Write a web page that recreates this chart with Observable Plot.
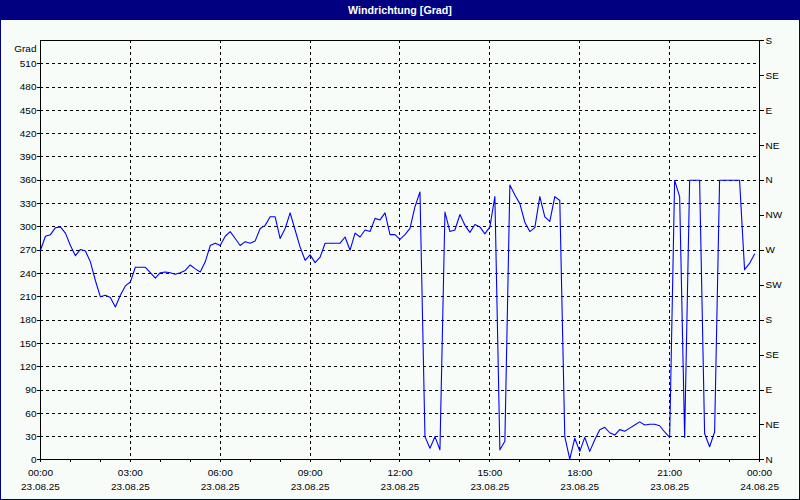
<!DOCTYPE html>
<html><head><meta charset="utf-8">
<script src="https://cdn.jsdelivr.net/npm/d3@7"></script>
<script src="https://cdn.jsdelivr.net/npm/@observablehq/plot@0.6"></script>
<style>
html,body{margin:0;padding:0;background:#f8fcf8;}
#frame{position:relative;width:800px;height:500px;box-sizing:border-box;border:1px solid #000080;background:#f8fcf8;font-family:"Liberation Sans",Arial,sans-serif;overflow:hidden}
#title{position:absolute;left:0;top:0;width:100%;height:19px;background:#000080;color:#fff;font-weight:bold;font-size:10.7px;line-height:19px;text-align:center}
#chart{position:absolute;left:-1px;top:19px;}
</style></head><body>
<div id="frame"><div id="title">Windrichtung [Grad]</div><div id="chart"></div></div>
<script>
// 10-minute samples starting 23.08.25 00:00
const stepMinutes = 10;
const direction = [
  270,288,290,299,300,292,276,263,271,269,255,231,210,212,209,197,212,224,229,248,
  248,248,241,234,241,242,241,239,241,244,251,246,242,255,276,279,276,288,294,285,
  276,281,279,282,298,302,313,313,285,298,318,296,274,257,264,254,261,279,279,279,
  279,287,270,292,287,296,294,311,309,318,290,290,284,290,298,326,345,30,15,30,
  13,319,294,296,316,302,293,303,300,291,300,339,13,24,354,341,330,306,294,299,
  339,313,307,339,334,30,1,28,11,29,11,26,39,42,35,32,39,37,41,45,
  49,45,46,46,44,36,29,360,339,29,360,360,360,34,17,36,360,360,360,360,
  360,245,253,265
];
const hourTicks = [0,3,6,9,12,15,18,21,24];
const timeLabels = ["00:00","03:00","06:00","09:00","12:00","15:00","18:00","21:00","00:00"];
const dateLabels = ["23.08.25","23.08.25","23.08.25","23.08.25","23.08.25","23.08.25","23.08.25","23.08.25","24.08.25"];
const minorHours = d3.range(0, 25);
const leftTicks = [0,30,60,90,120,150,180,210,240,270,300,330,360,390,420,450,480,510];
const gridValues = [30,60,90,120,150,180,210,240,270,300,330,360,390,420,450,480,510];
const compassTicks = [0,45,90,135,180,225,270,315,360,405,450,495,540];
const compassLabels = ["N","NE","E","SE","S","SW","W","NW","N","NE","E","SE","S"];
const gridHours = [3,6,9,12,15,18,21];

const data = direction.map((v, i) => ({h: i * stepMinutes / 60, v}));

const plot = Plot.plot({
  width: 800, height: 480,
  marginLeft: 40, marginRight: 40, marginTop: 20, marginBottom: 40,
  style: {background: "transparent", fontFamily: "Liberation Sans, Arial, sans-serif", fontSize: "10px", color: "#000", overflow: "visible"},
  x: {domain: [0, 24], axis: null, label: null},
  y: {domain: [0, 540], axis: null, label: null},
  marks: [
    Plot.gridY(gridValues, {stroke: "#000", strokeOpacity: 1, strokeDasharray: "3,3", shapeRendering: "crispEdges"}),
    Plot.gridX(gridHours, {stroke: "#000", strokeOpacity: 1, strokeDasharray: "3,3", shapeRendering: "crispEdges"}),
    Plot.frame({stroke: "#000", shapeRendering: "crispEdges"}),
    Plot.line(data, {x: "h", y: "v", stroke: "#0000ff", strokeWidth: 1.1}),
    Plot.axisY(leftTicks, {anchor: "left", tickSize: 3, tickPadding: 1, label: null, shapeRendering: "crispEdges"}),
    Plot.text(["Grad"], {frameAnchor: "top-left", dx: -4, dy: 4, textAnchor: "end", fontSize: 10}),
    Plot.axisY(compassTicks, {anchor: "right", tickSize: 4, tickPadding: 2, label: null,
      tickFormat: d => compassLabels[compassTicks.indexOf(d)], shapeRendering: "crispEdges"}),
    Plot.axisX(minorHours, {anchor: "bottom", tickSize: 3, tickPadding: 6, label: null,
      tickFormat: d => { const k = hourTicks.indexOf(d); return k >= 0 ? timeLabels[k] : ""; }, shapeRendering: "crispEdges"}),
    Plot.axisX(hourTicks, {anchor: "bottom", tickSize: 0, tickPadding: 23, label: null,
      tickFormat: d => dateLabels[hourTicks.indexOf(d)]})
  ]
});
document.getElementById("chart").appendChild(plot);
</script></body></html>
